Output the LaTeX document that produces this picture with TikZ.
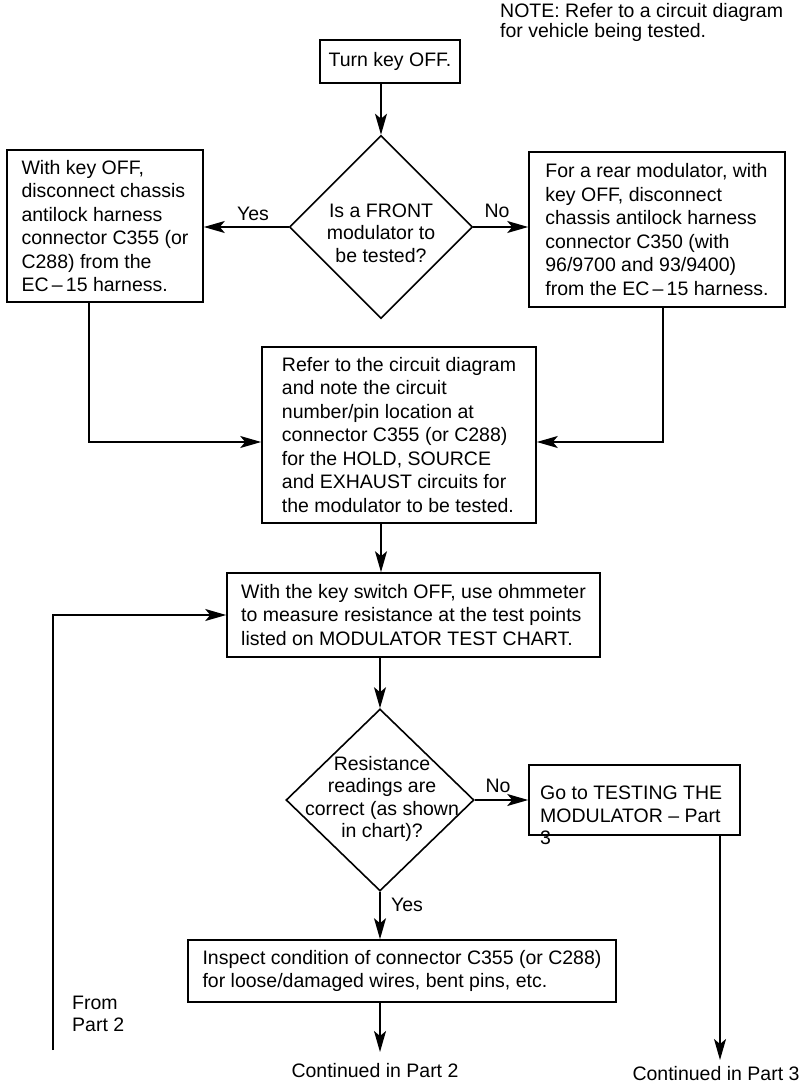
\documentclass[tikz,border=0pt]{standalone}
\usepackage{fontspec}
\setmainfont{Liberation Sans}
\usetikzlibrary{arrows.meta,shapes.geometric}
\begin{document}
\begin{tikzpicture}[x=1pt,y=-1pt,
  every node/.style={font=\fontsize{19.5}{23.5}\selectfont, inner sep=0pt},
  box/.style={draw, line width=1.6pt, align=left},
  dia/.style={draw, diamond, line width=1.6pt, inner sep=0pt},
  conn/.style={line width=1.6pt},
  arr/.style={conn, -{Stealth[length=21pt,width=12pt,inset=5pt]}},
  lbl/.style={align=left}]
\useasboundingbox (0,0) rectangle (800,1084);

% note
\node[lbl, anchor=north west, font=\fontsize{19.5}{20}\selectfont] (note) at (500,3)
  {NOTE: Refer to a circuit diagram\\for vehicle being tested.};

% top box
\node[box, minimum width=140, minimum height=43, align=center] (turn) at (390,61.5) {Turn key OFF.};

% first decision
\node[dia, minimum width=183, minimum height=183] (d1) at (381,227) {};
\node[align=center, font=\fontsize{19.5}{22.5}\selectfont] (d1t) at (381,233)
  {Is a FRONT\\modulator to\\be tested?};

% side boxes
\node[box, minimum width=196, minimum height=152] (lb) at (105,226)
  {With key OFF,\\disconnect chassis\\antilock harness\\connector C355 (or\\C288) from the\\EC\,--\,15 harness.};
\node[box, minimum width=256, minimum height=155] (rb) at (657,229.5)
  {For a rear modulator, with\\key OFF, disconnect\\chassis antilock harness\\connector C350 (with\\96/9700 and 93/9400)\\from the EC\,--\,15 harness.};

\node (yes1) at (253,214) {Yes};
\node (no1) at (497,211) {No};

% middle box
\node[box, minimum width=274, minimum height=176] (mid) at (399,435)
  {Refer to the circuit diagram\\and note the circuit\\number/pin location at\\connector C355 (or C288)\\for the HOLD, SOURCE\\and EXHAUST circuits for\\the modulator to be tested.};

% measure box
\node[box, minimum width=373, minimum height=84] (meas) at (413.5,615)
  {With the key switch OFF, use ohmmeter\\to measure resistance at the test points\\listed on MODULATOR TEST CHART.};

% second decision
\node[dia, minimum width=188, minimum height=182] (d2) at (380,800) {};
\node[align=center, font=\fontsize{19.5}{22.5}\selectfont] (d2t) at (382,799)
  {Resistance\\readings are\\correct (as shown\\in chart)?};

% go box (text overflows its bottom edge)
\node[draw, line width=1.6pt, minimum width=211, minimum height=70] (go) at (634.5,800) {};
\node[lbl, anchor=north west, font=\fontsize{19.5}{22.5}\selectfont] (got) at (540,786)
  {Go to TESTING THE\\MODULATOR -- Part\\3};

\node (no2) at (498,786) {No};
\node (yes2) at (407,905) {Yes};

% inspect box
\node[box, minimum width=428, minimum height=62] (insp) at (402,971)
  {Inspect condition of connector C355 (or C288)\\for loose/damaged wires, bent pins, etc.};

% bottom texts
\node (cont2) at (375,1071) {Continued in Part 2};
\node (cont3) at (716,1074) {Continued in Part 3};
\node[lbl, anchor=north west, font=\fontsize{19.5}{22}\selectfont] (from) at (72,996) {From\\Part 2};

% helper coordinates
\coordinate (jl) at (89,442);
\coordinate (jr) at (663,442);
\coordinate (c2) at (380,1052);
\coordinate (c3) at (720,1060);
\coordinate (lp) at (53,1050);

% connectors
\draw[arr] (turn.south -| d1.north) -- (d1.north);
\draw[arr] (d1.west) -- (d1.west -| lb.east);
\draw[arr] (d1.east) -- (d1.east -| rb.west);
\draw[arr] (lb.south -| jl) -- (jl) -- (jl -| mid.west);
\draw[arr] (rb.south -| jr) -- (jr) -- (jr -| mid.east);
\draw[arr] (mid.south -| d1.north) -- (meas.north -| d1.north);
\draw[arr] (meas.south -| d2.north) -- (d2.north);
\draw[arr] (d2.east) -- (d2.east -| go.west);
\draw[arr] (d2.south) -- (insp.north -| d2.south);
\draw[arr] (insp.south -| c2) -- (c2);
\draw[arr] (go.south -| c3) -- (c3);
\draw[arr] (lp) |- (meas.west);
\end{tikzpicture}
\end{document}
